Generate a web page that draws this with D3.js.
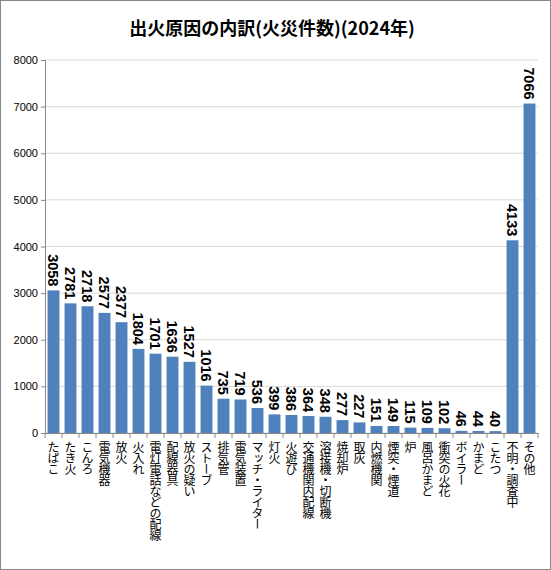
<!DOCTYPE html><html><head><meta charset="utf-8"><script src="https://cdn.jsdelivr.net/npm/d3@7"></script>
<style>body{margin:0;background:#fff}</style></head><body><svg id="c" width="551" height="570"></svg>
<script>
const categories=["たばこ","たき火","こんろ","電気機器","放火","火入れ","電灯電話などの配線","配線器具","放火の疑い","ストーブ","排気管","電気装置","マッチ・ライター","灯火","火遊び","交通機関内配線","溶接機・切断機","焼却炉","取灰","内燃機関","煙突・煙道","炉","風呂かまど","衝突の火花","ボイラー","かまど","こたつ","不明・調査中","その他"];
const values=[3058,2781,2718,2577,2377,1804,1701,1636,1527,1016,735,719,536,399,386,364,348,277,227,151,149,115,109,102,46,44,40,4133,7066];
const yTicks=[0,1000,2000,3000,4000,5000,6000,7000,8000];
const svg=d3.select("#c");
svg.append("rect").attr("x",0.5).attr("y",0.5).attr("width",550).attr("height",569).attr("fill","#fff").attr("stroke","#888");
svg.append("text").attr("x",272).attr("y",35).attr("text-anchor","middle").attr("font-family","Noto Sans CJK JP").attr("font-weight","bold").attr("font-size",18).text("出火原因の内訳(火災件数)(2024年)");
const x=d3.scaleBand().domain(categories).range([45,538]).paddingInner(0.3).paddingOuter(0.15);
const y=d3.scaleLinear().domain([0,8000]).range([433,60]);
const g=svg.append("g");
g.selectAll(".gl").data(yTicks).join("line").attr("x1",45).attr("x2",538).attr("y1",d=>y(d)).attr("y2",d=>y(d)).attr("stroke","#d9d9d9");
const ya=g.append("g").attr("transform","translate(45,0)").call(d3.axisLeft(y).tickValues(yTicks).tickSize(4).tickFormat(d3.format("d")));
ya.selectAll("text").attr("font-family","Liberation Sans").attr("font-size",11);
ya.select(".domain").attr("stroke","#888");ya.selectAll("line").attr("stroke","#888");
g.selectAll(".bar").data(values).join("rect").attr("x",(d,i)=>x(categories[i])).attr("width",x.bandwidth()).attr("y",d=>y(d)).attr("height",d=>y(0)-y(d)).attr("fill","#4f81bd");
g.selectAll(".vl").data(values).join("text").attr("transform",(d,i)=>`translate(${x(categories[i])+x.bandwidth()/2-5.5},${y(d)-4}) rotate(90)`).attr("text-anchor","end").attr("font-family","Liberation Sans").attr("font-weight","bold").attr("font-size",14.5).text(d=>d);
const xa=g.append("g").attr("transform","translate(0,433)").call(d3.axisBottom(x).tickSize(0).tickFormat(""));
xa.select(".domain").attr("stroke","#888");
g.selectAll(".tk").data(d3.range(categories.length+1)).join("line").attr("x1",d=>45+d*(493/29)).attr("x2",d=>45+d*(493/29)).attr("y1",433).attr("y2",438).attr("stroke","#888");
g.selectAll(".cl").data(categories).join("text").attr("x",d=>x(d)+x.bandwidth()/2).attr("y",441).attr("style","writing-mode:vertical-rl;text-orientation:upright").attr("font-family","Noto Sans CJK JP").attr("font-size",12).attr("letter-spacing",-1).text(d=>d);
</script></body></html>
